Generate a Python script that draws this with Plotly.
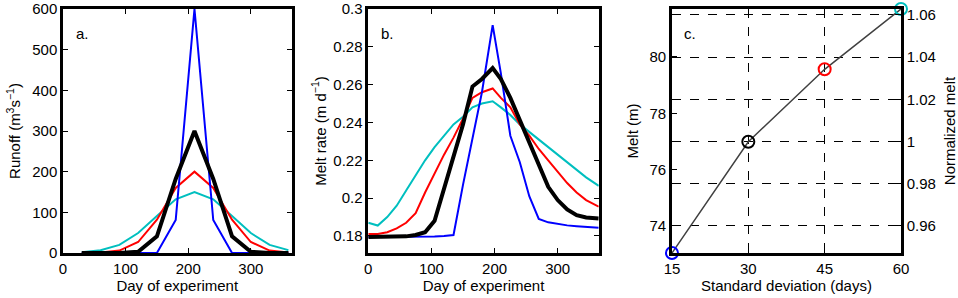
import plotly.graph_objects as go

# ---- Panel a: runoff ----
runoff_days = [30, 60, 90, 120, 150, 180, 210, 240, 270, 300, 330, 360]
runoff_sd15 = [0, 0, 0, 0, 0, 81, 600, 81, 0, 0, 0, 0]
runoff_sd30 = [0, 0, 0, 3, 41, 182, 300, 182, 41, 3, 0, 0]
runoff_sd45 = [0, 1, 6, 27, 82, 160, 200, 160, 82, 27, 6, 1]
runoff_sd60 = [2, 7, 20, 49, 91, 132, 150, 132, 91, 49, 20, 7]

# ---- Panel b: melt rate ----
melt_days = [0, 15, 30, 45, 60, 75, 90, 105, 120, 135, 150, 165, 180, 197,
             210, 225, 240, 255, 270, 285, 300, 315, 330, 345, 365]
melt_sd15 = [0.1795, 0.1795, 0.1795, 0.1795, 0.1795, 0.1795, 0.1795, 0.1797, 0.1800, 0.1805,
             0.207, 0.232, 0.256, 0.2915, 0.266, 0.233, 0.219, 0.201, 0.189, 0.1872,
             0.1862, 0.1856, 0.1852, 0.1848, 0.1844]
melt_sd30 = [0.1795, 0.1795, 0.1795, 0.1796, 0.1798, 0.1805, 0.182, 0.188, 0.205, 0.222,
             0.239, 0.259, 0.263, 0.2688, 0.263, 0.253, 0.241, 0.229, 0.218, 0.206,
             0.199, 0.194, 0.191, 0.1898, 0.1893]
melt_sd45 = [0.181, 0.181, 0.182, 0.184, 0.187, 0.192, 0.203, 0.213, 0.223, 0.232,
             0.242, 0.253, 0.256, 0.258, 0.253, 0.248, 0.239, 0.233, 0.226, 0.220,
             0.214, 0.208, 0.203, 0.199, 0.1955]
melt_sd60 = [0.187, 0.1855, 0.190, 0.196, 0.204, 0.212, 0.220, 0.227, 0.233, 0.239,
             0.243, 0.248, 0.250, 0.2512, 0.248, 0.244, 0.239, 0.235, 0.231, 0.227,
             0.223, 0.219, 0.215, 0.211, 0.2065]

# ---- Panel c: total melt ----
sd_values = [15, 30, 45, 60]
total_melt = [73.04, 76.99, 79.56, 81.70]
normalized_melt = [0.9472, 1.0, 1.034, 1.0627]
sd_colors = ["#0000ff", "#000000", "#ff0000", "#00bfbf"]

BLUE, RED, CYAN, BLACK = "#0000ff", "#ff0000", "#00bfbf", "#000000"
FONT = "Liberation Sans, Arial, Helvetica, sans-serif"

fig = go.Figure()

def add_set(days, s15, s30, s45, s60, xa, ya):
    for vals, col, w in [(s60, CYAN, 2), (s45, RED, 2), (s15, BLUE, 2), (s30, BLACK, 4)]:
        fig.add_trace(go.Scatter(x=days, y=vals, mode="lines", xaxis=xa, yaxis=ya,
                                 line=dict(color=col, width=w), showlegend=False,
                                 hoverinfo="skip"))

add_set(runoff_days, runoff_sd15, runoff_sd30, runoff_sd45, runoff_sd60, "x", "y")
add_set(melt_days, melt_sd15, melt_sd30, melt_sd45, melt_sd60, "x2", "y2")

# invisible trace to register the right-hand normalized axis
fig.add_trace(go.Scatter(x=sd_values, y=normalized_melt, mode="markers", xaxis="x3", yaxis="y4",
                         marker=dict(size=1, opacity=0), showlegend=False, hoverinfo="skip"))
fig.add_trace(go.Scatter(x=sd_values, y=total_melt, mode="lines", xaxis="x3", yaxis="y3",
                         line=dict(color="#404040", width=1.5), showlegend=False))
fig.add_trace(go.Scatter(x=sd_values, y=total_melt, mode="markers", xaxis="x3", yaxis="y3",
                         marker=dict(symbol="circle-open", size=12, color=sd_colors,
                                     line=dict(width=2, color=sd_colors)),
                         cliponaxis=False, showlegend=False))

ax = dict(showline=True, linecolor="black", linewidth=2.5, mirror="ticks",
          ticks="inside", ticklen=5, tickwidth=1.2, tickcolor="black",
          showgrid=False, zeroline=False, automargin=False,
          tickfont=dict(family=FONT, size=15, color="black"),
          title_font=dict(family=FONT, size=15, color="black"))

fig.update_layout(
    width=958, height=298,
    margin=dict(l=63, r=57, t=9, b=45),
    paper_bgcolor="white", plot_bgcolor="white",
    font=dict(family=FONT, size=15, color="black"),
    xaxis=dict(ax, domain=[0.0, 0.2727], range=[0, 365], tickvals=[0, 100, 200, 300],
               anchor="y", title=dict(text="Day of experiment", standoff=4)),
    yaxis=dict(ax, domain=[0, 1], range=[0, 600], tickvals=[0, 100, 200, 300, 400, 500, 600],
               anchor="x", title=dict(text="Runoff (m<sup>3</sup>s<sup>−1</sup>)", standoff=8)),
    xaxis2=dict(ax, domain=[0.3643, 0.6393], range=[0, 365], tickvals=[0, 100, 200, 300],
                anchor="y2", title=dict(text="Day of experiment", standoff=4)),
    yaxis2=dict(ax, domain=[0, 1], range=[0.171, 0.3],
                tickvals=[0.18, 0.2, 0.22, 0.24, 0.26, 0.28, 0.3],
                ticktext=["0.18", "0.2", "0.22", "0.24", "0.26", "0.28", "0.3"],
                anchor="x2", title=dict(text="Melt rate (m d<sup>−1</sup>)", standoff=4)),
    xaxis3=dict(ax, domain=[0.7267, 1.0], range=[15, 60], tickvals=[15, 30, 45, 60],
                showgrid=True, gridcolor="black", gridwidth=1, griddash="dash",
                anchor="y3", title=dict(text="Standard deviation (days)", standoff=4)),
    yaxis3=dict(ax, domain=[0, 1], range=[73.04, 81.70], tickvals=[74, 76, 78, 80],
                mirror=False, anchor="x3", title=dict(text="Melt (m)", standoff=8)),
    yaxis4=dict(ax, domain=[0, 1], range=[0.9472, 1.0628], overlaying="y3", side="right",
                anchor="x3", mirror=False,
                tickvals=[0.96, 0.98, 1.0, 1.02, 1.04, 1.06],
                ticktext=["0.96", "0.98", "1", "1.02", "1.04", "1.06"],
                showgrid=True, gridcolor="black", gridwidth=1, griddash="dash",
                title=dict(text="Normalized melt", standoff=10)),
    annotations=[
        dict(text="a.", x=(80 - 63 - 6) / 838, y=0.9, xref="paper", yref="paper", showarrow=False,
             font=dict(family=FONT, size=15), xanchor="left", yanchor="middle"),
        dict(text="b.", x=(385 - 63 - 6) / 838, y=0.9, xref="paper", yref="paper", showarrow=False,
             font=dict(family=FONT, size=15), xanchor="left", yanchor="middle"),
        dict(text="c.", x=(688 - 63 - 6) / 838, y=0.9, xref="paper", yref="paper", showarrow=False,
             font=dict(family=FONT, size=15), xanchor="left", yanchor="middle"),
    ],
)

fig.write_html("out.html")
